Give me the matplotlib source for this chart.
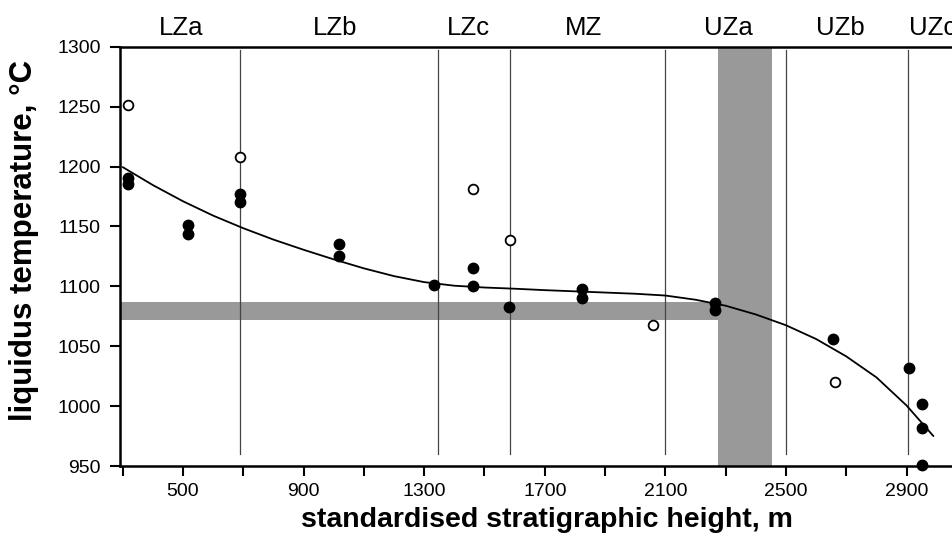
import matplotlib
matplotlib.use("Agg")
import matplotlib.pyplot as plt
import matplotlib.transforms as mtransforms

plt.rcParams['font.family'] = ['Liberation Sans', 'DejaVu Sans']

# filled symbols: height (m), liquidus temperature (C)
filled_x = [318, 318, 518, 518, 689, 689, 1016, 1016, 1334, 1462, 1462,
            1581, 1823, 1823, 2264, 2264, 2657, 2908, 2950, 2950, 2950]
filled_y = [1190, 1185, 1151, 1144, 1177, 1170, 1135, 1125, 1101, 1115, 1100,
            1083, 1098, 1090, 1086, 1080, 1056, 1032, 1002, 982, 951]

# open symbols
open_x = [318, 689, 1462, 1585, 2060, 2664]
open_y = [1251, 1208, 1181, 1139, 1068, 1020]

# fitted trend, every 100 m
fit_x = [300, 400, 500, 600, 700, 800, 900, 1000, 1100, 1200, 1300, 1400,
         1500, 1600, 1700, 1800, 1900, 2000, 2100, 2200, 2300, 2400, 2500,
         2600, 2700, 2800, 2900, 2989]
fit_y = [1199.5, 1184.5, 1171, 1159, 1148.5, 1139, 1130.5, 1122.5, 1115,
         1108.5, 1103.5, 1100.5, 1099, 1098, 1096.8, 1095.8, 1094.8, 1093.8,
         1092.3, 1088.8, 1083.8, 1076.5, 1067.5, 1056, 1041.5, 1024, 1000.5, 975]

# zone boundaries and names
boundaries = [689, 1346, 1585, 2100, 2500, 2905]
zone_names = ['LZa', 'LZb', 'LZc', 'MZ', 'UZa', 'UZb', 'UZc']
zone_pos = [493, 1004, 1445, 1827, 2308, 2679, 2987]

# grey bands
band_x = (2274, 2453)
band_y = (1072, 1087)

fig = plt.figure(figsize=(9.53, 5.37), dpi=100)
ax = fig.add_axes([0.1259, 0.1322, 0.8741, 0.7808])
ax.set_xlim(291, 3054)
ax.set_ylim(950, 1300)

grey = '#999999'
ax.axvspan(band_x[0], band_x[1], color=grey, lw=0, zorder=1)
ax.fill_between([291, band_x[0]], band_y[0], band_y[1], color=grey, lw=0, zorder=1)

for b in boundaries:
    ax.plot([b, b], [960, 1297], color='#444444', lw=0.9, zorder=2)

ax.plot(fit_x, fit_y, color='black', lw=1.3, zorder=3,
        solid_joinstyle='round', solid_capstyle='round')
ax.plot(filled_x, filled_y, 'o', color='black', markersize=7.5, zorder=4, clip_on=False)
ax.plot(open_x, open_y, 'o', mfc='white', mec='black', mew=1.3, markersize=7, zorder=4)

trans = mtransforms.blended_transform_factory(ax.transData, ax.transAxes)
for name, pos in zip(zone_names, zone_pos):
    ax.text(pos, 1.045, name, transform=trans, ha='center', va='center',
            fontsize=18.5, clip_on=False)

ax.spines['right'].set_visible(False)
for s in ['left', 'bottom', 'top']:
    ax.spines[s].set_linewidth(1.8)

ax.set_yticks(range(950, 1301, 50))
ax.set_xticks(range(300, 3001, 200))
ax.set_xticklabels([str(v) if (v - 500) % 400 == 0 else '' for v in range(300, 3001, 200)])
ax.tick_params(axis='both', direction='out', length=7, width=1.5, labelsize=14)
ax.tick_params(axis='y', pad=7)
ax.tick_params(axis='x', pad=5)

ax.set_xlabel('standardised stratigraphic height, m', fontsize=20.5, fontweight='bold')
ax.set_ylabel('liquidus temperature, °C', fontsize=22.5, fontweight='bold')
ax.xaxis.label.set_va('baseline')
ax.xaxis.set_label_coords(0.513, -0.1455)
ax.yaxis.set_label_coords(-0.097, 0.539)

fig.savefig('out.png', dpi=100)
